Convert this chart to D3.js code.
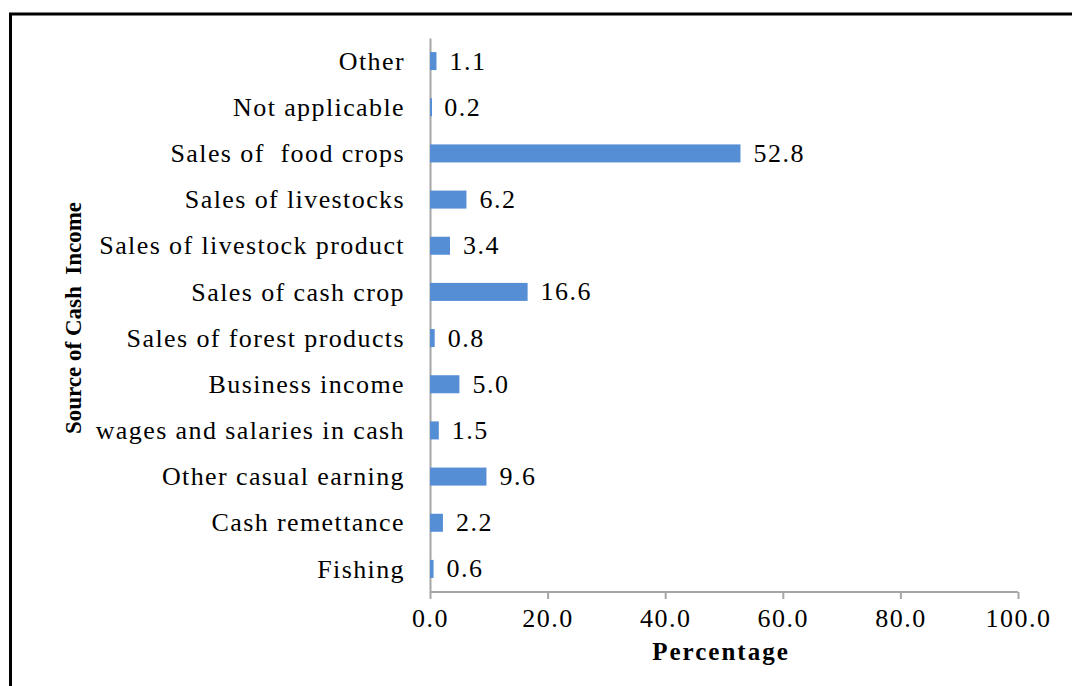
<!DOCTYPE html>
<html>
<head>
<meta charset="utf-8">
<script src="https://cdn.jsdelivr.net/npm/d3@7"></script>
<style>
  body { margin: 0; background: #fff; }
  text { font-family: "Liberation Serif", "Times New Roman", serif; fill: #000; }
</style>
</head>
<body>
<div class="chart"></div>
<script>
var svgWidth = 1072;
var svgHeight = 686;

// chart data, top to bottom as drawn
var categories = ["Other", "Not applicable", "Sales of  food crops", "Sales of livestocks",
  "Sales of livestock product", "Sales of cash crop", "Sales of forest products",
  "Business income", "wages and salaries in cash", "Other casual earning",
  "Cash remettance", "Fishing"];
var values = [1.1, 0.2, 52.8, 6.2, 3.4, 16.6, 0.8, 5.0, 1.5, 9.6, 2.2, 0.6];
var xTicks = [0, 20, 40, 60, 80, 100];

var margin = { top: 38, right: 54, bottom: 94, left: 430 };
var width = svgWidth - margin.left - margin.right;
var height = svgHeight - margin.top - margin.bottom;

var svg = d3.select(".chart")
  .append("svg")
  .attr("width", svgWidth)
  .attr("height", svgHeight);

// outer frame (left and top edges show, rest runs off the picture)
svg.append("rect")
  .attr("x", 10.5)
  .attr("y", 14)
  .attr("width", 1100)
  .attr("height", 700)
  .attr("fill", "none")
  .attr("stroke", "#000")
  .attr("stroke-width", 3);

var chartGroup = svg.append("g")
  .attr("transform", `translate(${margin.left}, ${margin.top})`);

var xScale = d3.scaleLinear().domain([0, 100]).range([0, width]);
var yScale = d3.scaleBand().domain(categories).range([0, height]).paddingInner(0.61).paddingOuter(0.305);

// x axis
var bottomAxis = d3.axisBottom(xScale)
  .tickValues(xTicks)
  .tickFormat(d3.format(".1f"))
  .tickSize(7)
  .tickPadding(10);

var xAxis = chartGroup.append("g")
  .attr("transform", `translate(0, ${height})`)
  .call(bottomAxis);
xAxis.select(".domain").attr("stroke", "#a6a6a6").attr("stroke-width", 2).attr("d", `M0,0H${width}`);
xAxis.selectAll(".tick line").attr("stroke", "#a6a6a6").attr("stroke-width", 2);
xAxis.selectAll(".tick text")
  .style("font-size", "26px")
  .style("letter-spacing", "1.5px")
  .attr("font-family", null);

// y axis
var leftAxis = d3.axisLeft(yScale).tickSize(0).tickPadding(25);
var yAxis = chartGroup.append("g").call(leftAxis);
yAxis.select(".domain").attr("stroke", "#a6a6a6").attr("stroke-width", 2);
yAxis.selectAll(".tick text")
  .style("font-size", "26px")
  .style("letter-spacing", "1.4px")
  .style("white-space", "pre")
  .attr("dy", "0.33em")
  .attr("font-family", null);

// bars (drawn over the axis line)
chartGroup.selectAll("rect.bar")
  .data(values)
  .enter()
  .append("rect")
  .attr("class", "bar")
  .attr("x", 0)
  .attr("y", (d, i) => yScale(categories[i]))
  .attr("width", d => Math.max(xScale(d), 2))
  .attr("height", yScale.bandwidth())
  .attr("fill", "#558ed5");

// value labels
chartGroup.selectAll("text.val")
  .data(values)
  .enter()
  .append("text")
  .attr("class", "val")
  .attr("x", d => xScale(d) + 13)
  .attr("y", (d, i) => yScale(categories[i]) + yScale.bandwidth() / 2)
  .attr("dy", "0.33em")
  .style("font-size", "26px")
  .style("letter-spacing", "1.5px")
  .text(d => d.toFixed(1));

// axis titles
svg.append("text")
  .attr("x", margin.left + width / 2 - 3)
  .attr("y", 660)
  .attr("text-anchor", "middle")
  .style("font-size", "25px")
  .style("font-weight", "bold")
  .style("letter-spacing", "2px")
  .text("Percentage");

svg.append("text")
  .attr("transform", "translate(81, 318) rotate(-90)")
  .attr("text-anchor", "middle")
  .style("font-size", "23px")
  .style("font-weight", "bold")
  .style("white-space", "pre")
  .text("Source of Cash  Income");
</script>
</body>
</html>
